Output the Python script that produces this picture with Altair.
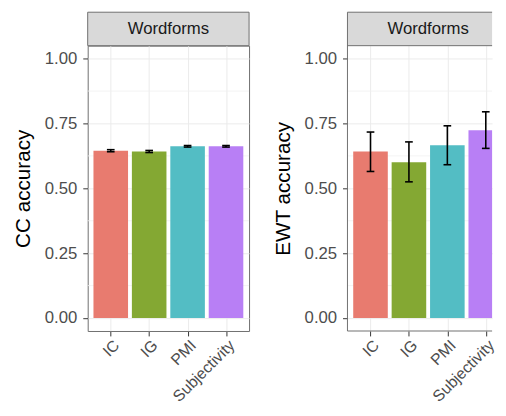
import json
import altair as alt
import pandas as pd

methods = ["IC", "IG", "PMI", "Subjectivity"]
colors = ["#E87B6F", "#84A833", "#53BDC4", "#B87FF5"]

cc_mean = [0.645, 0.642, 0.662, 0.662]
cc_lo = [0.641, 0.638, 0.659, 0.659]
cc_hi = [0.649, 0.646, 0.665, 0.665]

ewt_mean = [0.642, 0.601, 0.666, 0.724]
ewt_lo = [0.565, 0.525, 0.591, 0.654]
ewt_hi = [0.717, 0.679, 0.741, 0.795]

y_ticks = [0, 0.25, 0.5, 0.75, 1.0]
y_minor = [0.125, 0.375, 0.625, 0.875]
strip_label = "Wordforms"

FONT = "Liberation Sans"
W_FULL = 164      # full facet width
H = 290
STRIP_H = 34
BORDER = "#6E6E6E"
UNIT = W_FULL / 4.2   # px per category (ggplot discrete expansion 0.6 each side)


def panel(mean, lo, hi, ytitle, view_w, cut):
    pos = list(range(1, len(methods) + 1))
    df = pd.DataFrame({"method": methods, "pos": pos, "mean": mean, "lo": lo, "hi": hi})
    yscale = alt.Scale(domain=[-0.05, 1.05], nice=False, zero=False)
    x_max = 0.4 + view_w / UNIT
    xscale = alt.Scale(domain=[0.4, x_max], nice=False, zero=False, clamp=True)
    label_expr = json.dumps(methods) + "[datum.value - 1]"
    yaxis = alt.Axis(
        title=ytitle,
        values=y_ticks,
        format=".2f",
        labelFontSize=17,
        labelColor="#4D4D4D",
        labelPadding=6,
        labelOverlap=False,
        labelFlush=False,
        tickSize=5,
        tickColor="#333333",
        domain=False,
        grid=True,
        gridColor="#EBEBEB",
        minExtent=45,
        maxExtent=45,
        titleFontSize=21,
        titleFontWeight="normal",
        titleColor="#000000",
        titlePadding=10,
    )
    xaxis = alt.Axis(
        title=None,
        values=pos,
        labelExpr=label_expr,
        labelAngle=-45,
        labelAlign="right",
        labelBaseline="top",
        labelFontSize=16,
        labelColor="#4D4D4D",
        labelPadding=1,
        labelOverlap=False,
        labelFlush=False,
        tickSize=5,
        tickColor="#333333",
        domain=False,
        grid=True,
        gridColor="#EBEBEB",
    )
    base = alt.Chart(df).transform_calculate(
        b0="datum.pos - 0.45", b1="datum.pos + 0.45",
        c0="datum.pos - 0.1", c1="datum.pos + 0.1",
    )
    minor = (
        alt.Chart(pd.DataFrame({"v": y_minor}))
        .mark_rule(color="#F0F0F0", strokeWidth=0.8)
        .encode(y=alt.Y("v:Q", scale=yscale, axis=yaxis))
    )
    bars = base.mark_bar().encode(
        x=alt.X("b0:Q", scale=xscale, axis=xaxis),
        x2="b1:Q",
        y=alt.Y("mean:Q", scale=yscale, axis=yaxis),
        y2=alt.datum(0),
        color=alt.Color("method:N", scale=alt.Scale(domain=methods, range=colors), legend=None),
    )
    rule = base.mark_rule(color="#000000", strokeWidth=1.6).encode(
        x=alt.X("pos:Q", scale=xscale, axis=xaxis),
        y=alt.Y("lo:Q", scale=yscale, axis=yaxis),
        y2="hi:Q",
    )
    cap_lo = base.mark_rule(color="#000000", strokeWidth=1.6).encode(
        x=alt.X("c0:Q", scale=xscale, axis=xaxis),
        x2="c1:Q",
        y=alt.Y("lo:Q", scale=yscale, axis=yaxis),
    )
    cap_hi = base.mark_rule(color="#000000", strokeWidth=1.6).encode(
        x=alt.X("c0:Q", scale=xscale, axis=xaxis),
        x2="c1:Q",
        y=alt.Y("hi:Q", scale=yscale, axis=yaxis),
    )
    sdf = pd.DataFrame({"label": [strip_label]})
    layers = [minor, bars, rule, cap_lo, cap_hi]
    if not cut:
        strip_rect = (
            alt.Chart(sdf)
            .mark_rect(fill="#D9D9D9", stroke=BORDER, strokeWidth=1)
            .encode(x=alt.value(0), x2=alt.value(view_w), y=alt.value(-STRIP_H), y2=alt.value(0))
        )
        layers.append(strip_rect)
    else:
        strip_rect = (
            alt.Chart(sdf)
            .mark_rect(fill="#D9D9D9")
            .encode(x=alt.value(0), x2=alt.value(view_w), y=alt.value(-STRIP_H), y2=alt.value(0))
        )
        vline = (
            alt.Chart(sdf)
            .mark_rule(color=BORDER, strokeWidth=1)
            .encode(x=alt.value(0), y=alt.value(-STRIP_H), y2=alt.value(H))
        )
        hl = []
        for yy in (-STRIP_H, 0, H):
            hl.append(
                alt.Chart(sdf)
                .mark_rule(color=BORDER, strokeWidth=1)
                .encode(x=alt.value(0), x2=alt.value(view_w), y=alt.value(yy))
            )
        layers += [strip_rect, vline] + hl
    strip_text = (
        alt.Chart(sdf)
        .mark_text(fontSize=17, color="#1A1A1A", baseline="middle", align="center")
        .encode(x=alt.value(W_FULL / 2), y=alt.value(-STRIP_H / 2), text="label:N")
    )
    layers.append(strip_text)
    ch = alt.layer(*layers).properties(width=view_w, height=H)
    if cut:
        ch = ch.properties(view=alt.ViewBackground(stroke="transparent"))
    return ch


left = panel(cc_mean, cc_lo, cc_hi, "CC accuracy", W_FULL, False)
right = panel(ewt_mean, ewt_lo, ewt_hi, "EWT accuracy", 147, True)

chart = (
    alt.hconcat(left, right, spacing=22)
    .properties(padding={"left": 4, "top": 0, "right": 0, "bottom": 0})
    .configure(font=FONT)
    .configure_view(stroke=BORDER, strokeWidth=1)
)

chart.save("out.html", embed_options={"renderer": "svg", "actions": False})
